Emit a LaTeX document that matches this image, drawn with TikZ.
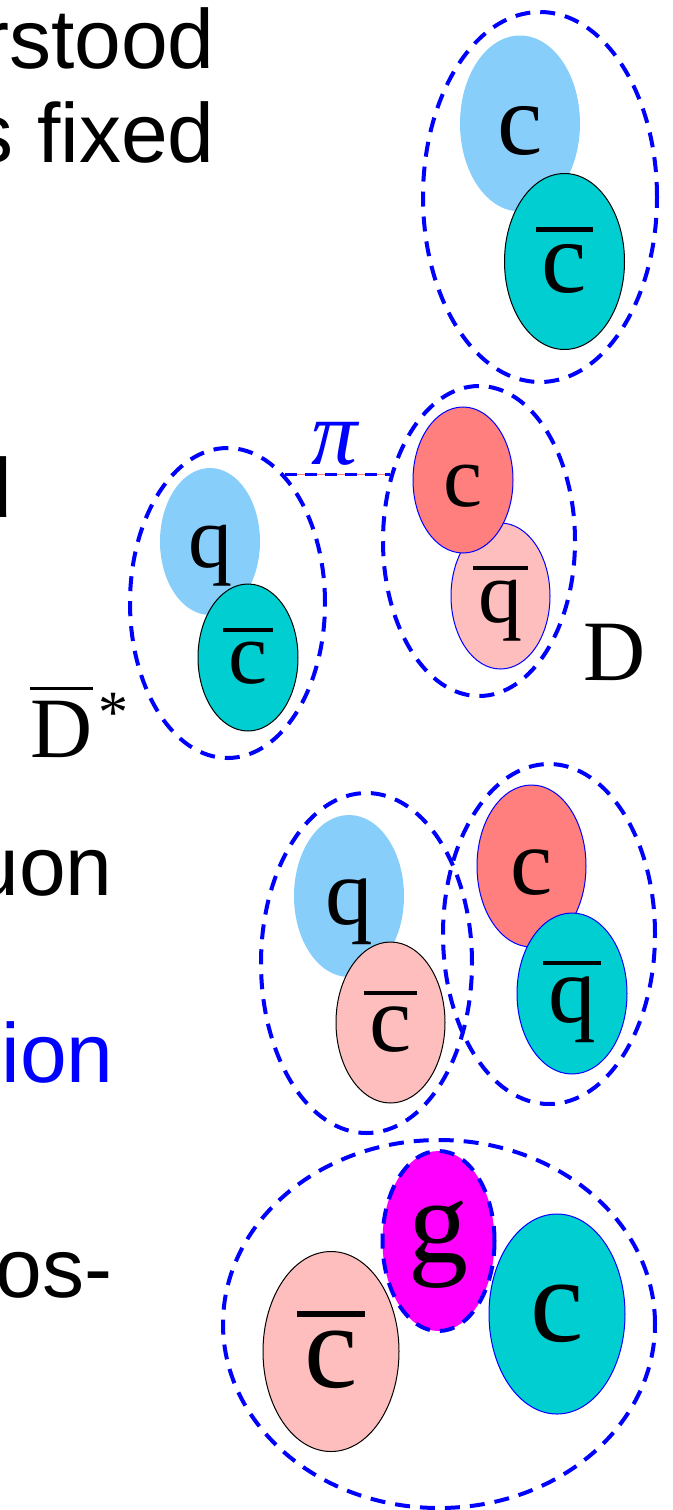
\documentclass[tikz,border=0pt]{standalone}
\usepackage{fontspec}
\usepackage{tikz}
\usetikzlibrary{shapes.geometric}
\newfontfamily\slidefont{Liberation Sans}
\newfontfamily\quarkfont{Liberation Serif}
\definecolor{skyq}{HTML}{87CEFA}
\definecolor{tealq}{HTML}{00CED1}
\definecolor{redq}{HTML}{FF7F7F}
\definecolor{pinkq}{HTML}{FFBEBE}
\definecolor{magq}{HTML}{FF00FF}
% bar over a quark letter
\newcommand{\ovl}[2][0.06em]{\vbox{\hrule height 0.045em\kern0.12em\hbox{\kern#1#2\kern#1}}}

\begin{document}
\begin{tikzpicture}[x=0.5pt, y=-0.5pt,
    quark/.style={ellipse, inner sep=0pt, text depth=0pt},
    qsize/.style={font=\quarkfont\fontsize{#1}{#1}\selectfont, text height=0.6*#1 pt},
    thinline/.style={draw=#1, line width=0.5pt},
    meson/.style={ellipse, inner sep=0pt, draw=blue, line width=2pt, dash pattern=on 7.5pt off 5pt},
    slide/.style={anchor=base east, inner sep=0pt, font=\slidefont\fontsize{42}{48}\selectfont}]
    \useasboundingbox (0,0) rectangle (673,1510);
    \clip (0,0) rectangle (673,1510);

    % slide text, cut at the left
    \node[slide] (t1) at (215,68) {rstood};
    \node[slide] (t2) at (215,162) {s fixed};
    \node[slide] (t3) at (13,517) {d};
    \node[slide] (t4) at (113,895) {uon};
    \node[slide, text=blue] (t5) at (114,1082) {ion};
    \node[slide] (t6) at (113,1297) {os-};

    % charmonium
    \node[meson, minimum width=117pt, minimum height=185pt] (ccbar) at (540,197) {};
    \node[quark, qsize=51, fill=skyq, minimum width=60pt, minimum height=88pt] (c1) at (520,123.5) {c};
    \node[quark, qsize=51, fill=tealq, thinline=black, minimum width=60pt, minimum height=88pt] (cb1) at (564.5,261.5) {\ovl{c}};

    % D* Dbar molecule
    \node[meson, minimum width=97.5pt, minimum height=155pt] (Dstar) at (227.5,603) {};
    \node[quark, qsize=44, fill=skyq, minimum width=50pt, minimum height=73.5pt] (q2) at (210,541.5) {q};
    \node[quark, qsize=44, fill=tealq, thinline=black, minimum width=50pt, minimum height=73.5pt] (cb2) at (248,657.5) {\ovl{c}};
    \node[meson, minimum width=96pt, minimum height=155pt] (D) at (479,541) {};
    \node[quark, qsize=44, fill=pinkq, thinline=blue, minimum width=49.5pt, minimum height=73pt] (qb2) at (500.5,596) {\ovl{q}};
    \node[quark, qsize=44, fill=redq, thinline=blue, minimum width=50pt, minimum height=73pt] (c2) at (463,480) {c};
    \node[anchor=base west, inner sep=0pt, font=\quarkfont\fontsize{43}{43}\selectfont] (Dlab) at (583,680) {D};
    \node[anchor=base west, inner sep=0pt, font=\quarkfont\fontsize{43}{43}\selectfont] (Dstarlab) at (30,757)
        {\ovl[0pt]{D}\kern3pt\raisebox{12.5pt}{\fontsize{30}{30}\selectfont *}};

    % pion exchange
    \draw[redq, line width=0.5pt] (Dstar.66.4) -- (Dstar.66.4 -| D.144);
    \draw[blue, line width=1.5pt, dash pattern=on 6pt off 4pt] (Dstar.66.4) -- (Dstar.66.4 -| D.144);
    \node[anchor=base, inner sep=0pt, text=blue, font=\quarkfont\itshape\fontsize{46}{46}\selectfont] (pilab) at (335,464) {π};

    % diquark - antidiquark
    \node[meson, minimum width=105.5pt, minimum height=170pt] (dq) at (366.5,963) {};
    \node[meson, minimum width=106pt, minimum height=170pt] (adq) at (549,934) {};
    \node[quark, qsize=47.5, fill=skyq, minimum width=55pt, minimum height=81pt] (q3) at (349,896) {q};
    \node[quark, qsize=47.5, fill=pinkq, thinline=black, minimum width=54.5pt, minimum height=80.5pt] (cb3) at (390.5,1022.5) {\ovl{c}};
    \node[quark, qsize=47.5, fill=redq, thinline=blue, minimum width=54.5pt, minimum height=81pt] (c3) at (531.5,866) {c};
    \node[quark, qsize=47.5, fill=tealq, thinline=blue, minimum width=55pt, minimum height=80.5pt] (qb3) at (572,993.5) {\ovl{q}};

    % hybrid
    \node[meson, minimum width=216pt, minimum height=184pt] (hyb) at (439,1324) {};
    \node[quark, qsize=60, fill=pinkq, thinline=black, minimum width=68pt, minimum height=100pt] (cb4) at (331,1351.5) {\ovl{c}};
    \node[quark, qsize=60, fill=tealq, thinline=blue, minimum width=68pt, minimum height=100pt, text height=27.6pt] (c4) at (557,1314) {c};
    \node[meson, fill=magq, font=\quarkfont\fontsize{60}{60}\selectfont, text height=21.6pt, text depth=0pt,
        minimum width=56pt, minimum height=90pt] (g) at (438.5,1241) {g};
\end{tikzpicture}
\end{document}
